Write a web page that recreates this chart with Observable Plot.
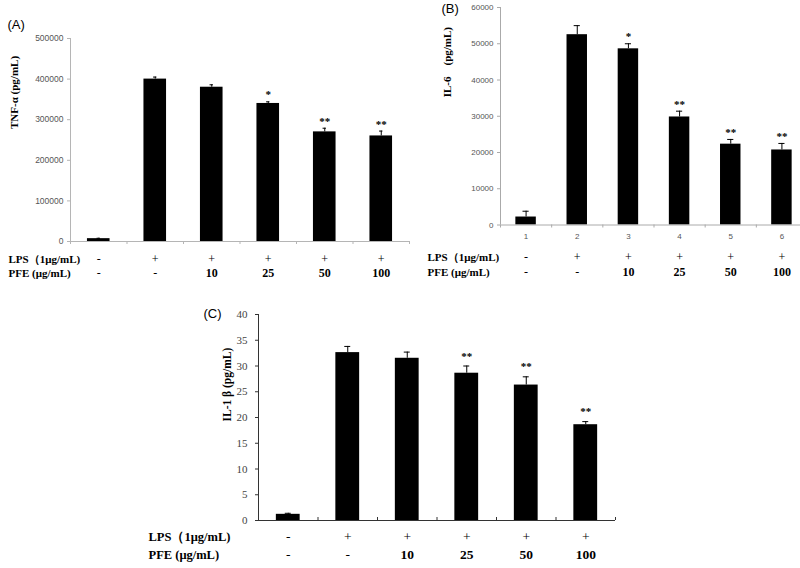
<!DOCTYPE html>
<html>
<head>
<meta charset="utf-8">
<script src="https://cdn.jsdelivr.net/npm/d3@7"></script>
<script src="https://cdn.jsdelivr.net/npm/@observablehq/plot@0.6"></script>
<style>
  html, body { margin: 0; padding: 0; background: white; overflow: hidden; }
  #wrap { position: relative; width: 800px; height: 568px; overflow: hidden; background: white; }
  #wrap svg { position: absolute; max-width: none; }
</style>
</head>
<body>
<div id="wrap"></div>
<script>
// ---- data ----
const groups = [1, 2, 3, 4, 5, 6];
const lps = ["-", "+", "+", "+", "+", "+"];
const pfe = ["-", "-", "10", "25", "50", "100"];

const tnfMean = [7000, 400000, 380000, 340000, 270000, 260000];
const tnfErr  = [1000, 5000, 6000, 4000, 9000, 12000];
const tnfSig  = ["", "", "", "*", "**", "**"];
const tnfTicks = [0, 100000, 200000, 300000, 400000, 500000];

const il6Mean = [2200, 52500, 48600, 29800, 22300, 20700];
const il6Err  = [1600, 2500, 1400, 1600, 1300, 1800];
const il6Sig  = ["", "", "*", "**", "**", "**"];
const il6Ticks = [0, 10000, 20000, 30000, 40000, 50000, 60000];

const il1Mean = [1.2, 32.6, 31.5, 28.6, 26.3, 18.6];
const il1Err  = [0.2, 1.2, 1.2, 1.4, 1.6, 0.6];
const il1Sig  = ["", "", "", "**", "**", "**"];
const il1Ticks = [0, 5, 10, 15, 20, 25, 30, 35, 40];

const lpsLabel = "LPS（1μg/mL)";
const pfeLabel = "PFE (μg/mL)";

const SERIF = "'Liberation Serif', 'Times New Roman', serif";
const SANS = "'Liberation Sans', Arial, sans-serif";

function panel(cfg) {
  const rows = groups.map((g, i) => ({
    i, g, mean: cfg.mean[i], err: cfg.err[i], sig: cfg.sig[i], lps: lps[i], pfe: pfe[i]
  }));
  const cx = d => d.i + 0.5;
  const top = d => d.mean + d.err;
  const fs = cfg.tableFont;
  const marks = [
    Plot.rect(rows, {x1: d => d.i + 0.3, x2: d => d.i + 0.7, y1: 0, y2: "mean", fill: "black"}),
    Plot.ruleX(rows, {x: cx, y1: "mean", y2: top, stroke: "black", strokeWidth: 1}),
    Plot.ruleY(rows, {y: top, x1: d => cx(d) - cfg.cap, x2: d => cx(d) + cfg.cap, stroke: "black", strokeWidth: 1}),
    Plot.text(rows.filter(d => d.sig), {x: cx, y: top, text: "sig", dy: cfg.sigDy, fontFamily: SERIF, fontWeight: "bold", fontSize: 11, fill: "black"}),
    Plot.ruleX([0], {stroke: cfg.axisColor}),
    Plot.ruleY([0], {stroke: cfg.axisColor}),
    Plot.axisY({ticks: cfg.ticks, tickFormat: d => String(d), tickSize: 3, tickPadding: cfg.tickPad, label: null,
      fontSize: cfg.tickFont, fontFamily: cfg.tickFamily, fill: cfg.tickColor, stroke: cfg.axisColor}),
    Plot.axisX({ticks: [0, 1, 2, 3, 4, 5, 6], tickFormat: () => "", tickSize: cfg.xTickSize, label: null, stroke: cfg.axisColor}),
    // table rows
    Plot.text(rows, {x: cx, text: "lps", frameAnchor: "bottom", dy: cfg.row1, fontFamily: SERIF, fontSize: fs + 1, fill: "black"}),
    Plot.text(rows.filter(d => d.pfe === "-"), {x: cx, text: "pfe", frameAnchor: "bottom", dy: cfg.row2, fontFamily: SERIF, fontSize: fs + 1, fill: "black"}),
    Plot.text(rows.filter(d => d.pfe !== "-"), {x: cx, text: "pfe", frameAnchor: "bottom", dy: cfg.row2, fontFamily: SERIF, fontWeight: "bold", fontSize: fs + 1, fill: "black"}),
    Plot.text([lpsLabel], {text: d => d, frameAnchor: "bottom-left", textAnchor: "start", dx: cfg.rowDx, dy: cfg.row1, fontFamily: SERIF, fontWeight: "bold", fontSize: fs, fill: "black"}),
    Plot.text([pfeLabel], {text: d => d, frameAnchor: "bottom-left", textAnchor: "start", dx: cfg.rowDx, dy: cfg.row2, fontFamily: SERIF, fontWeight: "bold", fontSize: fs, fill: "black"}),
    // y label
    Plot.text([cfg.ylabel], {text: d => d, frameAnchor: "left", rotate: -90, dx: cfg.yLabDx, dy: cfg.yLabDy, fontFamily: SERIF, fontWeight: "bold", fontSize: cfg.yLabFont, fill: "black"}),
    // panel letter
    Plot.text([cfg.letter], {text: d => d, frameAnchor: "top-left", textAnchor: "start", dx: cfg.letDx, dy: cfg.letDy, fontFamily: SANS, fontSize: 13, fill: "black"})
  ];
  if (cfg.numbers) {
    marks.push(Plot.text(rows, {x: cx, text: d => String(d.g), frameAnchor: "bottom", dy: cfg.numDy, fontFamily: SANS, fontSize: 8, fill: "#555"}));
  }
  const svg = Plot.plot({
    width: cfg.width, height: cfg.height,
    marginLeft: cfg.ml, marginRight: cfg.mr, marginTop: cfg.mt, marginBottom: cfg.mb,
    x: {domain: [0, 6], axis: null},
    y: {domain: [0, cfg.ticks[cfg.ticks.length - 1]], axis: null},
    style: {background: "transparent", fontFamily: SANS, overflow: "visible"},
    marks
  });
  svg.style.left = cfg.left + "px";
  svg.style.top = cfg.top + "px";
  document.getElementById("wrap").appendChild(svg);
}

// Panel A
panel({
  left: 0, top: 0, width: 420, height: 286, ml: 70, mr: 11, mt: 38, mb: 45,
  mean: tnfMean, err: tnfErr, sig: tnfSig, ticks: tnfTicks, cap: 0.03, sigDy: -7,
  axisColor: "#b5b5b5", tickColor: "#555", tickFont: 8.5, tickFamily: SANS, tickPad: 4, xTickSize: 3,
  row1: 21, row2: 35, rowDx: -62, tableFont: 11, yLabFont: 11,
  ylabel: "TNF-α (pg/mL)", yLabDx: -56, yLabDy: -11,
  letter: "(A)", letDx: -63, letDy: -19
});

// Panel B
panel({
  left: 400, top: 0, width: 420, height: 285, ml: 100, mr: 13, mt: 7, mb: 60.5,
  mean: il6Mean, err: il6Err, sig: il6Sig, ticks: il6Ticks, cap: 0.06, sigDy: -7,
  axisColor: "#aaaaaa", tickColor: "#555", tickFont: 8, tickFamily: SANS, tickPad: 4, xTickSize: 3,
  row1: 36, row2: 51, rowDx: -73, numbers: true, numDy: 14, tableFont: 11, yLabFont: 11,
  ylabel: "IL-6\u2003(pg/mL)", yLabDx: -53, yLabDy: -19,
  letter: "(B)", letDx: -59, letDy: -4
});

// Panel C
panel({
  left: 150, top: 290, width: 480, height: 278, ml: 108, mr: 15, mt: 24, mb: 48,
  mean: il1Mean, err: il1Err, sig: il1Sig, ticks: il1Ticks, cap: 0.05, sigDy: -10,
  axisColor: "#333", tickColor: "#444", tickFont: 11, tickFamily: SERIF, tickPad: 8, xTickSize: -3,
  row1: 20, row2: 38, rowDx: -110, tableFont: 12.5, yLabFont: 11.5,
  ylabel: "IL-1 β (pg/mL)", yLabDx: -31, yLabDy: 4,
  letter: "(C)", letDx: -55, letDy: -6
});
</script>
</body>
</html>
